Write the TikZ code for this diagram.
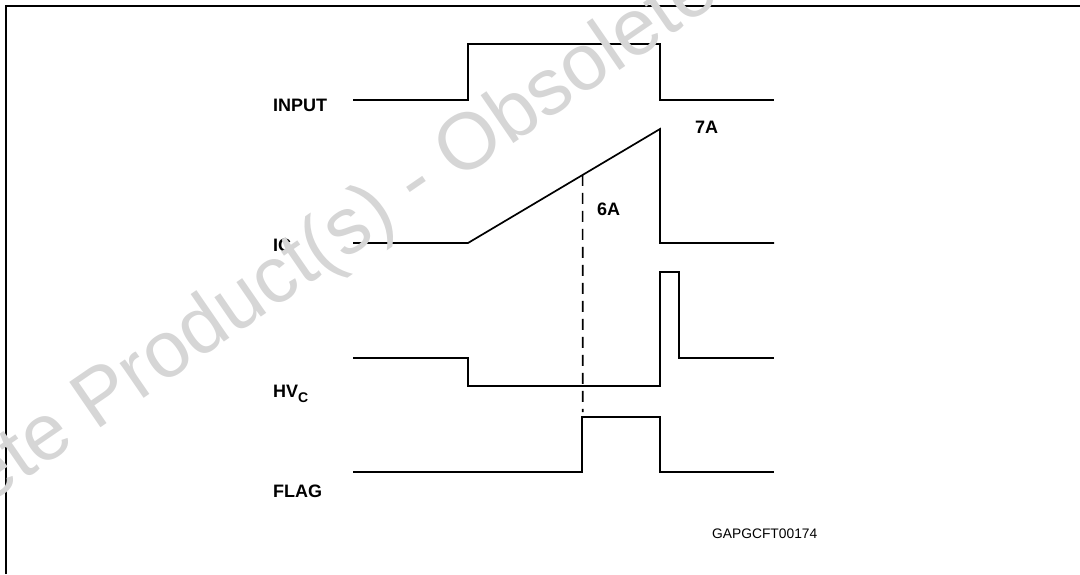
\documentclass[tikz,border=0pt]{standalone}
\usepackage{fontspec}
\setmainfont{Liberation Sans}
\usetikzlibrary{calc}
\definecolor{wmgray}{gray}{0.84}
\begin{document}
\begin{tikzpicture}[x=1pt,y=-1pt,
  wave/.style={line width=1.7pt, line join=miter},
  frameline/.style={line width=2pt},
  dashline/.style={line width=1.7pt, dash pattern=on 11pt off 7pt},
  lbl/.style={font=\fontsize{18}{20}\selectfont\bfseries, inner sep=0pt, anchor=base west},
  code/.style={font=\fontsize{13.8}{16}\selectfont, inner sep=0pt, anchor=base west},
  watermark/.style={font=\fontsize{80}{90}\selectfont, text=wmgray, inner sep=0pt}]
\useasboundingbox (0,0) rectangle (1080,574);
% frame
\coordinate (fbl) at (6,574);
\coordinate (ftl) at (6,6);
\coordinate (ftr) at (1080,6);
\draw[frameline] (fbl) -- (ftl) -- (ftr);
% INPUT
\draw[wave] (353,100) -- (468,100) -- (468,44) -- (660,44) -- (660,100) -- (774,100);
% IC
\coordinate (rampA) at (468,243);
\coordinate (rampB) at (660,129);
\draw[wave] (353,243) -- (rampA) -- (rampB) -- (660,243) -- (774,243);
% HVC
\draw[wave] (353,358) -- (468,358) -- (468,386) -- (660,386) -- (660,272) -- (679,272) -- (679,358) -- (774,358);
% FLAG
\draw[wave] (353,472) -- (582,472) -- (582,417) -- (660,417) -- (660,472) -- (774,472);
% dashed threshold marker
\coordinate (dtop) at ($(rampA)!0.597!(rampB)$);
\coordinate (dbot) at (582.7,412);
\draw[dashline] (dtop) -- (dbot);
% labels
\node[lbl] (input) at (273,111.5) {INPUT};
\node[lbl] (ic) at (273,251) {IC};
\node[lbl] (hvc) at (273,397) {HV\raisebox{-5pt}{\fontsize{14}{14}\selectfont C}};
\node[lbl] (flag) at (273,497) {FLAG};
\node[lbl] (six) at (597,215) {6A};
\node[lbl] (seven) at (695,133) {7A};
\node[code] (ref) at (712,538) {GAPGCFT00174};
% watermark
\node[watermark, rotate=34.5] (wm) at (417,185) {Obsolete Product(s) - Obsolete Product(s)};
\end{tikzpicture}
\end{document}
